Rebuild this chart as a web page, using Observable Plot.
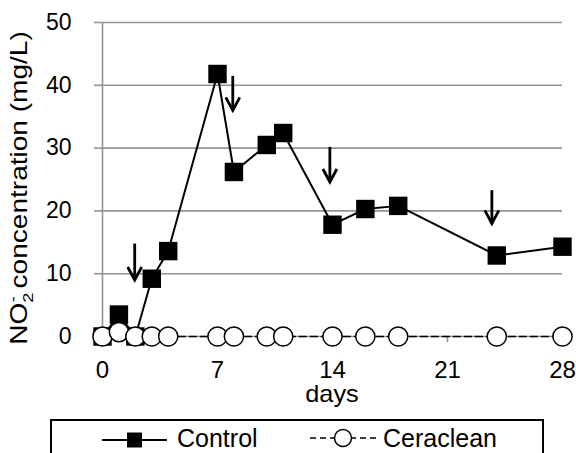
<!DOCTYPE html>
<html><head><meta charset="utf-8">
<script src="https://cdn.jsdelivr.net/npm/d3@7"></script>
<script src="https://cdn.jsdelivr.net/npm/@observablehq/plot@0.6"></script>
<style>
body{margin:0;background:#fff;}
#wrap{position:relative;width:576px;height:453px;overflow:hidden;background:#fff;font-family:"Liberation Sans",Arial,sans-serif;}
#chart svg{display:block;}
#legend{position:absolute;left:0;top:0;}
</style></head>
<body><div id="wrap"><div id="chart"></div>
<svg id="legend" width="576" height="453" style="pointer-events:none">
  <rect x="51" y="420" width="492" height="60" fill="none" stroke="#000" stroke-width="2"/>
  <line x1="102" y1="440" x2="167" y2="440" stroke="#000" stroke-width="2"/>
  <rect x="127" y="432.5" width="15" height="15" fill="#000"/>
  <text x="177" y="447" font-size="25" font-family="Liberation Sans, Arial, sans-serif">Control</text>
  <line x1="310" y1="438" x2="378" y2="438" stroke="#000" stroke-width="1.5" stroke-dasharray="6,4"/>
  <circle cx="343" cy="438" r="8.5" fill="#fff" stroke="#000" stroke-width="1.5"/>
  <text x="383" y="447" font-size="25" font-family="Liberation Sans, Arial, sans-serif">Ceraclean</text>
</svg>
</div>
<script>
const days = [0, 1, 2, 3, 4, 7, 8, 10, 11, 14, 16, 18, 24, 28];
const control = [0, 3.5, 0, 9.2, 13.6, 41.8, 26.2, 30.5, 32.4, 17.8, 20.3, 20.8, 12.9, 14.3];
const ceraclean = [0, 0.7, 0, 0, 0, 0, 0, 0, 0, 0, 0, 0, 0, 0];
const arrowDays = [1.96, 7.93, 13.84, 23.7];
const arrowFrom = [14.8, 41.5, 30.2, 23.3];
const arrowTo = [9.0, 36.0, 24.6, 18.0];
const xTicks = [0, 7, 14, 21, 28];
const yTicks = [0, 10, 20, 30, 40, 50];

const rows = days.map((d, i) => ({day: d, control: control[i], ceraclean: ceraclean[i]}));
const arrows = arrowDays.map((d, i) => ({day: d, from: arrowFrom[i], to: arrowTo[i]}));
const grid = "#939393";

// open V arrowhead drawn with its tip at the dot's position
const arrowHead = {
  draw(context) {
    context.moveTo(-7, -13);
    context.lineTo(0, 0);
    context.lineTo(7, -13);
  }
};

const plot = Plot.plot({
  width: 576, height: 453,
  marginLeft: 102, marginRight: 14, marginTop: 22, marginBottom: 117,
  style: {fontFamily: "Liberation Sans, Arial, sans-serif", fontSize: "23px", color: "#000", background: "#fff", overflow: "visible"},
  x: {domain: [0, 28], label: null},
  y: {domain: [0, 50], label: null},
  marks: [
    Plot.ruleY(yTicks, {stroke: grid, strokeWidth: 1.6}),
    Plot.axisY(yTicks, {tickSize: 8, tickPadding: 23, stroke: grid, strokeWidth: 1.6, fill: "#000", label: null, fontSize: 23}),
    Plot.axisX(xTicks, {tickSize: 6, tickPadding: 18, stroke: grid, strokeWidth: 1.6, fill: "#000", label: null, fontSize: 24}),
    Plot.ruleX([0], {stroke: grid, strokeWidth: 1.6}),
    Plot.line(rows, {x: "day", y: "control", stroke: "#000", strokeWidth: 2}),
    Plot.dot(rows, {x: "day", y: "control", symbol: "square", r: 10.4, fill: "#000", stroke: "none"}),
    Plot.link(arrows, {x1: "day", x2: "day", y1: "from", y2: "to", stroke: "#000", strokeWidth: 2.8}),
    Plot.dot(arrows, {x: "day", y: "to", symbol: arrowHead, fill: "none", stroke: "#000", strokeWidth: 2.8, strokeLinejoin: "miter", strokeLinecap: "butt"}),
    Plot.line(rows, {x: "day", y: "ceraclean", stroke: "#000", strokeWidth: 1.5, strokeDasharray: "7,4"}),
    Plot.dot(rows, {x: "day", y: "ceraclean", r: 9.6, fill: "#fff", stroke: "#000", strokeWidth: 1.5})
  ]
});
document.getElementById("chart").appendChild(plot);

const svg = d3.select(plot);
const xs = plot.scale("x");
svg.append("text")
  .attr("transform", `translate(${xs.apply(14)},402) scale(1.1,1)`)
  .attr("text-anchor", "middle").attr("font-size", 23).attr("fill", "#000")
  .text("days");

const yt = svg.append("text")
  .attr("transform", "translate(27,188) rotate(-90) scale(1.22,1)")
  .attr("text-anchor", "middle").attr("font-size", 23).attr("fill", "#000");
yt.append("tspan").text("NO");
yt.append("tspan").attr("font-size", 15).attr("dy", 6).text("2");
yt.append("tspan").attr("font-size", 15).attr("dx", -8).attr("dy", -15).text("-");
yt.append("tspan").attr("dy", 9).text(" concentration (mg/L)");
</script>
</body></html>
